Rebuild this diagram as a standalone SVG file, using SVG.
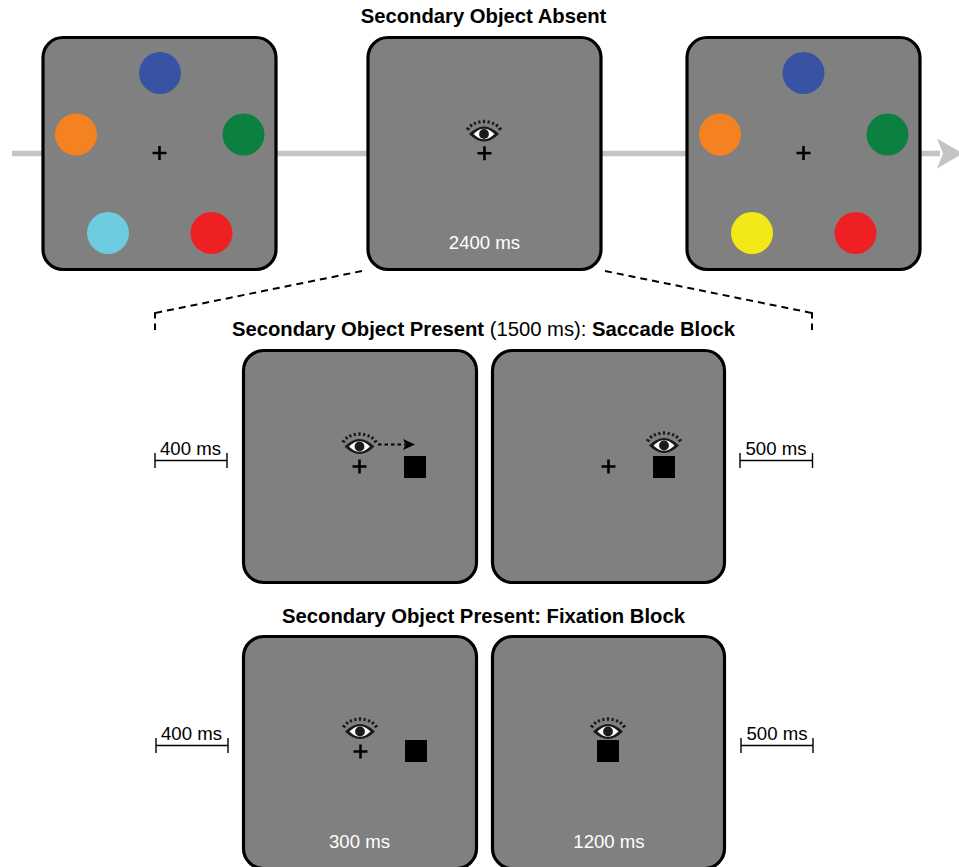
<svg xmlns="http://www.w3.org/2000/svg" xmlns:xlink="http://www.w3.org/1999/xlink" width="959" height="867" viewBox="0 0 959 867">
<style>
text{font-family:"Liberation Sans",Arial,sans-serif;font-size:18.6px;fill:#000}
.b{font-weight:bold}
.t{font-size:20.25px}
.w{fill:#fff;text-anchor:middle}
.m{text-anchor:middle}
.panel{fill:#808080;stroke:#000;stroke-width:3.200}
.cross{stroke:#000;stroke-width:2.600;fill:none}
.dash{fill:none;stroke:#000;stroke-width:2;stroke-dasharray:7 5}
.solid{fill:none;stroke:#000;stroke-width:2}
.tick{fill:none;stroke:#000;stroke-width:1.400}
</style>
<defs>
<g id="eye">
<path d="M-15 0Q0-15 15 0Q0 15-15 0Z" fill="#1a1a1a"/>
<path d="M-10.500 0Q0-10.500 10.500 0Q0 10.500-10.500 0Z" fill="#fff"/>
<circle r="4.900" fill="#1a1a1a"/>
<path d="M-17.500-6L-14.500-4.200M-14-9.600L-11.800-7.400M-9.800-12L-8.400-9.300M-5-13.600L-4.300-10.400M0-14.200V-10.800M5-13.600L4.300-10.400M9.800-12L8.400-9.300M14-9.600L11.800-7.400M17.500-6L14.500-4.200" fill="none" stroke="#1a1a1a" stroke-width="2.200"/>
</g>
<path id="plus" d="M-7 0H7M0-7V7" class="cross"/>
</defs>
<g id="connectors">
<path d="M12 153.500H940" fill="none" stroke="#c4c4c4" stroke-width="5.500"/>
<path d="M937 138.500L963 153.500L937 168.500L943 153.500Z" fill="#c4c4c4"/>
<path d="M362 271L159 312.200" class="dash"/>
<path d="M159 312.200L155 313V318.500M155 323.500V330" class="solid"/>
<path d="M605 271L808 312.200" class="dash"/>
<path d="M808 312.200L812 313V318.500M812 323.500V330" class="solid"/>
</g>
<g id="title-absent"><text class="b m t" x="483.500" y="22.500">Secondary Object Absent</text></g>
<g id="panel-a1">
<rect class="panel" x="43" y="37.500" width="233" height="232" rx="20"/>
<circle cx="160" cy="73" r="21" fill="#3953a4"/>
<circle cx="76" cy="134.500" r="21" fill="#f58220"/>
<circle cx="243.500" cy="134.500" r="21" fill="#0b8040"/>
<circle cx="108" cy="233" r="21" fill="#6dcddf"/>
<circle cx="211.500" cy="233" r="21" fill="#ed2024"/>
<use xlink:href="#plus" x="159.500" y="153"/>
</g>
<g id="panel-a2">
<rect class="panel" x="368" y="37.500" width="233" height="232" rx="20"/>
<use xlink:href="#eye" x="484" y="134"/>
<use xlink:href="#plus" x="484.500" y="153.300"/>
<text class="w" x="484.500" y="248.500">2400 ms</text>
</g>
<g id="panel-a3">
<rect class="panel" x="687" y="37.500" width="233" height="232" rx="20"/>
<circle cx="803.500" cy="73" r="21" fill="#3953a4"/>
<circle cx="720" cy="134.500" r="21" fill="#f58220"/>
<circle cx="887.500" cy="134.500" r="21" fill="#0b8040"/>
<circle cx="752" cy="233" r="21" fill="#f2e916"/>
<circle cx="855.500" cy="233" r="21" fill="#ed2024"/>
<use xlink:href="#plus" x="803.500" y="153"/>
</g>
<g id="title-saccade"><text x="483.500" y="336" class="m t"><tspan class="b">Secondary Object Present</tspan> (1500 ms): <tspan class="b">Saccade Block</tspan></text></g>
<g id="panel-s1">
<rect class="panel" x="243.500" y="350.500" width="233" height="232" rx="20"/>
<use xlink:href="#eye" x="359.500" y="446.500"/>
<use xlink:href="#plus" x="359.500" y="466.500"/>
<path d="M378 444.500H405" fill="none" stroke="#000" stroke-width="1.800" stroke-dasharray="3.500 3"/>
<path d="M403 439L415 444.500L403 450L405.500 444.500Z" fill="#000"/>
<rect x="404" y="456" width="22" height="22" fill="#000"/>
</g>
<g id="panel-s2">
<rect class="panel" x="492.500" y="350.500" width="232" height="232" rx="20"/>
<use xlink:href="#eye" x="664" y="445.500"/>
<use xlink:href="#plus" x="608.500" y="466.500"/>
<rect x="653" y="456" width="22" height="22" fill="#000"/>
</g>
<g id="label-s1"><text class="m" x="190.500" y="455">400 ms</text><path class="tick" d="M155 460.500H227M155 453V468M227 453V468"/></g>
<g id="label-s2"><text class="m" x="776" y="455">500 ms</text><path class="tick" d="M740 460.500H812.500M740 453V468M812.500 453V468"/></g>
<g id="title-fixation"><text class="b m t" x="483.500" y="622.500">Secondary Object Present: Fixation Block</text></g>
<g id="panel-f1">
<rect class="panel" x="243.500" y="636.500" width="233" height="232" rx="20"/>
<use xlink:href="#eye" x="360" y="731.500"/>
<use xlink:href="#plus" x="360.500" y="751.500"/>
<rect x="405" y="740" width="22" height="22" fill="#000"/>
<text class="w" x="359.500" y="847.500">300 ms</text>
</g>
<g id="panel-f2">
<rect class="panel" x="492.500" y="636.500" width="232" height="232" rx="20"/>
<use xlink:href="#eye" x="608" y="731.500"/>
<rect x="597" y="740" width="22" height="22" fill="#000"/>
<text class="w" x="609" y="847.500">1200 ms</text>
</g>
<g id="label-f1"><text class="m" x="191.500" y="740">400 ms</text><path class="tick" d="M156 745.500H228M156 738V753M228 738V753"/></g>
<g id="label-f2"><text class="m" x="777" y="740">500 ms</text><path class="tick" d="M741 745.500H813M741 738V753M813 738V753"/></g>
</svg>
